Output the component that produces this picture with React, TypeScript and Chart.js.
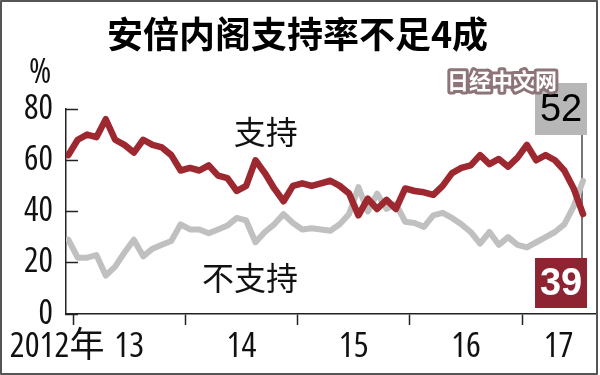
import { useEffect, useRef } from 'react';
import { Chart, registerables } from 'chart.js';

Chart.register(...registerables);

const months = [
  '2012-12',
  '2013-01', '2013-02', '2013-03', '2013-04', '2013-05', '2013-06', '2013-07', '2013-08', '2013-09', '2013-10', '2013-11', '2013-12',
  '2014-01', '2014-02', '2014-03', '2014-04', '2014-05', '2014-06', '2014-07', '2014-08', '2014-09', '2014-10', '2014-11', '2014-12',
  '2015-01', '2015-02', '2015-03', '2015-04', '2015-05', '2015-06', '2015-07', '2015-08', '2015-09', '2015-10', '2015-11', '2015-12',
  '2016-01', '2016-02', '2016-03', '2016-04', '2016-05', '2016-06', '2016-07', '2016-08', '2016-09', '2016-10', '2016-11', '2016-12',
  '2017-01', '2017-02', '2017-03', '2017-04', '2017-05', '2017-06', '2017-07',
];

const support = [
  62, 68, 70, 69, 76, 68, 66, 63, 68, 66,
  65, 62, 56, 57, 56, 58, 54, 53, 48, 50,
  60, 55, 49, 44, 50, 51, 50, 51, 52, 50,
  47, 38.5, 45, 41, 44.5, 41, 49, 48, 47.5, 46.5,
  50, 55, 57, 58, 62, 58.5, 60.5, 57.5, 61, 66,
  60, 62, 60, 56, 49, 39,
];

const nonSupport = [
  29, 22, 22, 23, 15, 18.5, 24, 29, 22.5, 25.5,
  27, 28.5, 35, 33, 33, 31.5, 33, 34.5, 37.5, 36.5,
  28, 32, 35, 39, 35.5, 33, 33.5, 33, 32.5, 35,
  39, 49.5, 40, 47, 41, 43, 36, 35.5, 34, 38.5,
  39.5, 37.5, 35, 32, 27.5, 32, 27, 30, 27, 26,
  28, 30, 32, 35, 42, 52,
];

const yTickValues = [0, 20, 40, 60, 80];
const yearLabels = ['2012年', '13', '14', '15', '16', '17'];
const titleText = '安倍内阁支持率不足4成';
const supportLabel = '支持';
const nonSupportLabel = '不支持';
const unitLabel = '%';
const watermark = '日经中文网';

const RED = '#9e2830';
const RED_BOX = '#8e2331';
const GRAY = '#c0c0c0';
const GRAY_BOX = '#b7b7b7';
const AXIS = '#222';
const NARROW = "'Open Sans', 'Noto Sans CJK JP', sans-serif";
const CJK = "'Noto Sans CJK SC', 'Noto Sans CJK JP', sans-serif";

const X_MIN = -0.25;
const X_MAX = 56.28;

// year boundaries (between December and January points)
const boundaries = months
  .map((m, i) => (m.endsWith('-01') ? i - 0.5 : null))
  .filter((v) => v !== null) as number[];

function buildXTicks() {
  const ticks: any[] = [];
  boundaries.forEach((b) => ticks.push({ value: b, major: true, txt: '' }));
  ticks.push({ value: boundaries[0] - 1.7, major: false, txt: yearLabels[0] });
  for (let k = 1; k < yearLabels.length; k++) {
    const a = boundaries[k - 1];
    const b = k < boundaries.length ? boundaries[k] : X_MAX;
    ticks.push({ value: (a + b) / 2, major: false, txt: yearLabels[k] });
  }
  ticks.sort((p, q) => p.value - q.value);
  return ticks;
}

const annotations = {
  id: 'annotations',
  beforeDatasetsDraw(chart: any) {
    const { ctx, chartArea, scales } = chart;
    const lastX = scales.x.getPixelForValue(months.length - 1);
    ctx.save();
    ctx.strokeStyle = '#777';
    ctx.lineWidth = 2;
    ctx.beginPath();
    ctx.moveTo(lastX - 1, chartArea.top + 26);
    ctx.lineTo(lastX - 1, chartArea.bottom - 56);
    ctx.stroke();
    ctx.restore();
  },
  afterDatasetsDraw(chart: any) {
    const { ctx, chartArea, scales } = chart;
    const lastX = scales.x.getPixelForValue(months.length - 1);
    const bw = 52;
    const right = lastX + 4;
    ctx.save();
    ctx.fillStyle = GRAY_BOX;
    ctx.fillRect(right - bw, chartArea.top - 26, bw, 52);
    ctx.fillStyle = '#000';
    ctx.font = `38px 'Liberation Sans', Arial, sans-serif`;
    ctx.textAlign = 'center';
    ctx.textBaseline = 'middle';
    ctx.fillText(String(nonSupport[nonSupport.length - 1]), right - bw / 2, chartArea.top + 2);
    ctx.fillStyle = RED_BOX;
    ctx.fillRect(right - bw, chartArea.bottom - 56, bw, 50);
    ctx.fillStyle = '#fff';
    ctx.font = `bold 38px 'Liberation Sans', Arial, sans-serif`;
    ctx.fillText(String(support[support.length - 1]), right - bw / 2, chartArea.bottom - 29);
    ctx.restore();
  },
  afterDraw(chart: any) {
    const { ctx, chartArea, scales } = chart;
    const { x, y } = scales;
    ctx.save();
    ctx.textAlign = 'center';
    ctx.textBaseline = 'middle';
    ctx.fillStyle = '#111';
    ctx.font = `32px ${CJK}`;
    ctx.fillText(supportLabel, x.getPixelForValue(21.1), y.getPixelForValue(71));
    ctx.fillText(nonSupportLabel, x.getPixelForValue(19.4), y.getPixelForValue(14));
    ctx.font = `condensed 34px ${NARROW}`;
    ctx.fillText(unitLabel, chartArea.left - 26, chartArea.top - 36);
    ctx.font = `bold 22px ${CJK}`;
    ctx.lineJoin = 'round';
    ctx.lineWidth = 6;
    ctx.strokeStyle = '#8d7479';
    ctx.strokeText(watermark, 502, 81);
    ctx.fillStyle = '#fff';
    ctx.fillText(watermark, 502, 81);
    ctx.strokeStyle = '#555';
    ctx.lineWidth = 2;
    ctx.strokeRect(1, 1, 596, 373);
    ctx.restore();
  },
};

export default function App() {
  const ref = useRef<HTMLCanvasElement>(null);
  useEffect(() => {
    document.body.style.margin = '0';
    const canvas = ref.current!;
    const chart = new Chart(canvas, {
      type: 'line',
      data: {
        labels: months,
        datasets: [
          {
            label: supportLabel,
            data: support.map((v, i) => ({ x: i, y: v })),
            borderColor: RED,
            borderWidth: 6.5,
            pointRadius: 0,
            tension: 0,
            borderJoinStyle: 'round',
            borderCapStyle: 'round',
          },
          {
            label: nonSupportLabel,
            data: nonSupport.map((v, i) => ({ x: i, y: v })),
            borderColor: GRAY,
            borderWidth: 6,
            pointRadius: 0,
            tension: 0,
            borderJoinStyle: 'round',
            borderCapStyle: 'round',
          },
        ],
      },
      options: {
        animation: false,
        responsive: false,
        devicePixelRatio: 1,
        layout: { padding: { left: 0, right: 5, top: 0, bottom: 0 } },
        plugins: {
          legend: { display: false },
          tooltip: { enabled: false },
          title: {
            display: true,
            text: titleText,
            color: '#000',
            font: { family: CJK, size: 36, weight: 'bold' },
            padding: { top: 13, bottom: 52.8 },
          },
        },
        scales: {
          x: {
            type: 'linear',
            min: X_MIN,
            max: X_MAX,
            afterBuildTicks: (scale: any) => {
              scale.ticks = buildXTicks();
            },
            afterFit: (scale: any) => {
              scale.height = 61;
            },
            ticks: {
              autoSkip: false,
              maxRotation: 0,
              minRotation: 0,
              padding: 1,
              color: '#111',
              font: { family: NARROW, size: 35, weight: 'condensed' },
              callback: (_v: any, i: number, ticks: any[]) => ticks[i].txt,
            },
            grid: {
              drawOnChartArea: false,
              tickLength: 11,
              tickWidth: 1.5,
              tickColor: (ctx: any) => (ctx.tick && ctx.tick.major ? AXIS : 'rgba(0,0,0,0)'),
            },
            border: { color: AXIS, width: 1.5 },
          },
          y: {
            min: 0,
            max: 80,
            afterBuildTicks: (scale: any) => {
              scale.ticks = yTickValues.map((v) => ({ value: v }));
            },
            afterFit: (scale: any) => {
              scale.width = 66;
            },
            ticks: {
              padding: 25,
              color: '#111',
              font: { family: NARROW, size: 34, weight: 'condensed' },
            },
            grid: {
              drawOnChartArea: false,
              tickLength: -12,
              tickWidth: 1.5,
              tickColor: AXIS,
            },
            border: { color: AXIS, width: 1.5 },
          },
        },
      },
      plugins: [annotations],
    } as any);
    return () => chart.destroy();
  }, []);
  return (
    <div style={{ width: 600, height: 375, background: '#fff' }}>
      <canvas ref={ref} width={600} height={375} style={{ display: 'block' }} />
    </div>
  );
}
